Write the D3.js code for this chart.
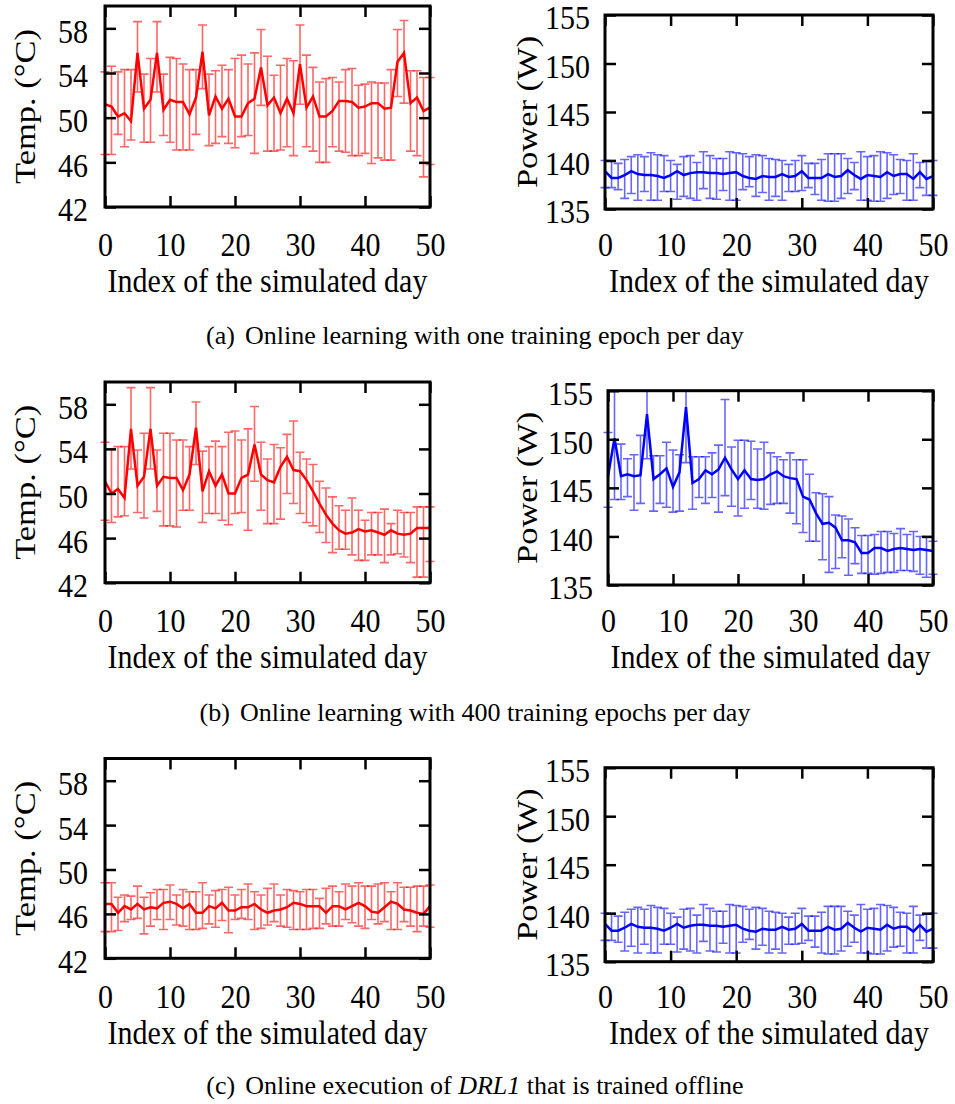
<!DOCTYPE html>
<html>
<head>
<meta charset="utf-8">
<script src="https://cdn.jsdelivr.net/npm/d3@7/dist/d3.min.js"></script>
<style>
  body { margin: 0; background: #fff; }
  svg { display: block; }
</style>
</head>
<body>
<svg id="chart" width="955" height="1104"></svg>
<script>
const days = d3.range(0, 51);   // index of the simulated day
const xTicks = [0, 10, 20, 30, 40, 50];
const tempTicks = [42, 46, 50, 54, 58];
const powerTicks = [135, 140, 145, 150, 155];

// (a) one training epoch per day
const tempAMean = [51.2, 51.0, 50.1, 50.4, 49.7, 55.8, 50.8, 51.6, 55.8, 50.7, 51.6, 51.4, 51.4, 50.3, 51.8, 55.9, 50.2, 51.9, 50.8, 51.7, 50.1, 50.1, 51.3, 51.7, 54.5, 51.1, 51.8, 50.4, 51.7, 50.4, 54.8, 50.9, 51.9, 50.1, 50.1, 50.6, 51.5, 51.5, 51.4, 50.9, 51.0, 51.3, 51.3, 50.8, 50.9, 55.0, 55.8, 51.3, 51.8, 50.6, 50.9];
const tempAHi = [54.1, 54.6, 54.1, 54.3, 54.3, 58.6, 53.9, 55.3, 58.6, 53.9, 55.4, 55.3, 54.8, 54.3, 54.3, 58.3, 53.9, 54.2, 54.7, 54.3, 55.3, 55.6, 54.8, 55.8, 57.9, 55.5, 53.8, 54.7, 55.3, 55.1, 58.3, 55.6, 54.5, 53.2, 53.5, 53.6, 53.2, 54.3, 54.4, 52.9, 53.0, 53.2, 53.1, 53.1, 54.3, 57.9, 58.7, 54.2, 54.2, 53.6, 53.6];
const tempALo = [46.7, 46.7, 48.5, 47.4, 48.0, 52.3, 47.8, 47.8, 52.3, 48.4, 47.8, 47.1, 47.1, 47.1, 48.5, 52.6, 47.5, 47.7, 48.3, 47.7, 47.3, 48.3, 48.4, 46.8, 51.1, 47.0, 47.0, 47.1, 47.4, 46.6, 51.2, 47.4, 47.0, 46.0, 46.0, 47.4, 47.0, 46.9, 46.6, 46.6, 46.8, 45.9, 46.4, 46.2, 46.2, 51.9, 51.3, 47.0, 46.6, 44.7, 45.8];
const powerAMean = [138.9, 138.2, 138.2, 138.5, 138.9, 138.6, 138.5, 138.5, 138.4, 138.2, 138.5, 138.9, 138.5, 138.7, 138.8, 138.8, 138.7, 138.7, 138.6, 138.7, 138.8, 138.4, 138.2, 138.1, 138.4, 138.3, 138.3, 138.6, 138.3, 138.4, 138.9, 138.2, 138.2, 138.2, 138.6, 138.3, 138.4, 139.0, 138.5, 138.1, 138.5, 138.4, 138.3, 138.8, 138.4, 138.6, 138.6, 138.1, 138.8, 138.1, 138.4];
const powerAHi = [140.0, 140.0, 139.7, 140.1, 140.4, 140.6, 140.4, 140.8, 140.6, 140.5, 140.0, 139.6, 140.4, 140.5, 139.8, 140.9, 140.5, 140.2, 140.2, 140.9, 140.8, 140.7, 140.4, 140.6, 140.5, 140.2, 140.1, 140.0, 139.6, 140.0, 140.5, 139.7, 139.7, 140.1, 140.7, 140.7, 140.7, 140.2, 139.8, 140.9, 140.4, 140.5, 140.9, 140.8, 140.6, 140.1, 140.0, 140.7, 139.8, 139.9, 140.0];
const powerALo = [137.2, 137.2, 137.0, 136.1, 136.6, 135.9, 136.8, 135.9, 135.9, 136.8, 136.8, 136.0, 136.3, 136.1, 135.9, 137.1, 136.1, 136.0, 136.9, 135.9, 135.9, 137.0, 137.3, 136.3, 136.7, 135.9, 136.3, 135.9, 136.8, 136.8, 136.9, 137.2, 136.5, 135.9, 135.8, 135.8, 136.1, 136.6, 137.0, 135.9, 135.9, 135.8, 135.8, 136.1, 136.5, 136.6, 135.9, 135.9, 137.2, 136.4, 136.4];

// (b) 400 training epochs per day
const tempBMean = [51.1, 50.0, 50.4, 49.6, 55.8, 50.7, 51.5, 55.8, 50.7, 51.5, 51.4, 51.4, 50.3, 51.7, 55.9, 50.2, 52.0, 50.7, 51.7, 50.0, 50.0, 51.4, 51.7, 54.4, 51.7, 51.2, 51.0, 52.4, 53.3, 52.1, 52.0, 51.2, 50.2, 49.1, 48.1, 47.3, 46.7, 46.4, 46.5, 46.8, 46.6, 46.7, 46.5, 46.3, 46.7, 46.4, 46.3, 46.4, 46.9, 46.9, 46.9];
const tempBHi = [54.6, 54.0, 54.2, 54.2, 59.5, 53.9, 55.4, 59.5, 53.9, 55.4, 55.4, 54.8, 54.8, 54.2, 58.2, 53.8, 54.2, 54.7, 54.2, 55.5, 55.6, 54.8, 55.8, 57.8, 54.6, 53.1, 54.4, 54.1, 55.3, 56.5, 53.7, 53.1, 52.6, 51.1, 50.5, 49.7, 48.9, 48.5, 49.6, 48.5, 47.6, 48.3, 48.3, 48.6, 47.3, 48.5, 48.3, 48.3, 48.8, 48.8, 48.8];
const tempBLo = [47.6, 47.4, 47.9, 48.0, 52.2, 48.3, 47.8, 52.2, 48.4, 47.1, 47.1, 47.0, 48.5, 48.5, 52.6, 47.4, 48.2, 48.2, 47.6, 47.2, 48.2, 48.3, 46.7, 51.1, 48.5, 47.3, 47.3, 47.7, 50.0, 49.1, 48.2, 47.4, 47.1, 46.5, 45.6, 44.7, 45.0, 45.0, 44.5, 44.0, 44.0, 44.5, 44.5, 43.8, 44.5, 44.6, 44.3, 43.8, 42.5, 42.5, 43.9];
const powerBMean = [146.2, 150.1, 146.2, 146.4, 146.2, 146.3, 152.6, 145.9, 146.4, 147.0, 145.1, 146.6, 153.3, 145.5, 145.9, 146.8, 146.4, 146.9, 148.1, 146.9, 145.9, 146.8, 145.9, 145.8, 145.9, 146.4, 146.7, 146.2, 146.0, 145.9, 144.1, 143.8, 142.4, 141.3, 141.4, 140.9, 139.6, 139.6, 139.4, 138.3, 138.3, 138.8, 138.8, 138.5, 138.7, 138.8, 138.7, 138.6, 138.7, 138.6, 138.5];
const powerBHi = [150.7, 157.0, 149.5, 148.0, 148.4, 150.4, 156.5, 148.3, 148.3, 149.7, 148.9, 148.4, 156.0, 148.2, 148.2, 148.2, 148.6, 149.4, 154.1, 149.2, 149.9, 149.9, 149.8, 149.0, 149.7, 148.6, 148.2, 147.9, 148.6, 147.9, 147.9, 146.4, 144.5, 144.4, 144.1, 142.2, 142.1, 141.8, 140.9, 140.1, 140.1, 140.2, 140.5, 140.5, 140.3, 140.8, 140.2, 140.5, 140.0, 140.0, 139.5];
const powerBLo = [143.0, 143.8, 143.8, 144.1, 142.7, 143.4, 148.0, 142.6, 143.4, 143.0, 142.5, 142.6, 147.6, 142.8, 144.0, 143.4, 144.0, 142.5, 144.2, 143.1, 142.1, 142.9, 143.8, 142.9, 142.8, 143.3, 143.4, 143.4, 142.4, 141.3, 140.4, 139.5, 139.5, 137.6, 136.3, 136.7, 137.8, 136.0, 137.2, 136.2, 136.2, 136.1, 136.2, 136.3, 136.3, 136.5, 136.5, 136.4, 136.1, 135.8, 136.1];

// (c) DRL1 trained offline
const tempCMean = [46.9, 46.9, 46.1, 46.7, 46.4, 46.9, 46.4, 46.6, 46.5, 47.0, 47.1, 46.9, 46.5, 46.9, 46.1, 46.1, 46.7, 46.5, 47.0, 46.3, 46.3, 46.6, 46.6, 46.9, 46.4, 46.1, 46.3, 46.4, 46.6, 47.0, 46.9, 46.7, 46.7, 46.7, 46.1, 46.7, 46.7, 46.4, 46.7, 47.0, 46.7, 46.2, 46.1, 46.6, 47.1, 46.9, 46.4, 46.3, 46.1, 46.0, 46.7];
const tempCHi = [48.8, 48.8, 47.5, 47.7, 47.6, 48.5, 47.5, 47.9, 48.2, 48.2, 48.6, 47.7, 48.2, 48.0, 48.0, 48.8, 47.7, 48.1, 48.2, 48.4, 47.7, 48.2, 48.7, 48.0, 47.7, 48.3, 48.7, 47.7, 48.2, 48.1, 48.0, 48.2, 48.2, 47.4, 48.3, 48.5, 48.0, 48.7, 48.5, 48.8, 48.5, 48.5, 48.7, 48.8, 48.0, 48.8, 48.4, 48.4, 48.5, 48.5, 48.6];
const tempCLo = [44.4, 44.4, 44.5, 45.3, 45.5, 45.6, 44.2, 44.9, 45.5, 44.6, 45.5, 45.0, 44.9, 44.6, 44.6, 44.7, 45.1, 44.8, 45.4, 44.3, 45.5, 45.6, 45.5, 44.6, 44.7, 45.0, 45.3, 44.9, 44.8, 44.6, 44.6, 44.6, 44.7, 44.7, 45.1, 44.9, 44.9, 45.5, 45.2, 44.9, 44.7, 45.5, 45.1, 45.3, 44.6, 44.6, 45.3, 44.9, 44.4, 44.9, 44.8];
// power in (c) is the same series as in (a)
const powerCMean = powerAMean, powerCHi = powerAHi, powerCLo = powerALo;

const font = '"Liberation Serif", "Times New Roman", serif';
const svg = d3.select('#chart');

function panel(p) {
    const x = d3.scaleLinear().domain([0, 50]).range([p.left, p.right]);
    const y = d3.scaleLinear().domain(p.domain).range([p.bottom, p.top]);
    const g = svg.append('g');

    g.append('clipPath').attr('id', p.id).append('rect')
        .attr('x', p.left - 6).attr('y', p.top)
        .attr('width', p.right - p.left + 12).attr('height', p.bottom - p.top);
    const plot = g.append('g').attr('clip-path', `url(#${p.id})`);

    // error bars with caps
    plot.append('g')
        .attr('fill', 'none').attr('stroke', p.color)
        .attr('stroke-opacity', 0.6).attr('stroke-width', 1.6)
        .selectAll('path')
        .data(days)
        .join('path')
        .attr('d', d => {
            const cx = x(d), y0 = y(p.lo[d]), y1 = y(p.hi[d]);
            return `M${cx},${y0}V${y1}M${cx - 4.5},${y0}H${cx + 4.5}M${cx - 4.5},${y1}H${cx + 4.5}`;
        });

    // mean line
    plot.append('path')
        .datum(days)
        .attr('fill', 'none').attr('stroke', p.color).attr('stroke-width', 2.5)
        .attr('stroke-linejoin', 'miter')
        .attr('d', d3.line().x(d => x(d)).y(d => y(p.mean[d])));

    const style = sel => {
        sel.select('.domain').remove();
        sel.selectAll('.tick line').attr('stroke', '#000').attr('stroke-width', 2.5);
        sel.attr('font-family', font).attr('font-size', 30);
        sel.selectAll('text').attr('fill', '#000');
    };

    g.append('g')
        .attr('transform', `translate(0,${p.bottom})`)
        .call(d3.axisBottom(x).tickValues(xTicks).tickSize(-11))
        .call(style)
        .selectAll('text')
        .attr('y', 0).attr('dy', null)
        .attr('dominant-baseline', 'central')
        .attr('transform', `translate(0,${p.tickY - p.bottom}) scale(1,1.1)`);
    g.append('g')
        .attr('transform', `translate(0,${p.top})`)
        .call(d3.axisTop(x).tickValues(xTicks).tickSize(-11).tickFormat(''))
        .call(style);
    g.append('g')
        .attr('transform', `translate(${p.left},0)`)
        .call(d3.axisLeft(y).tickValues(p.ticks).tickSize(-11).tickPadding(p.pad))
        .call(style)
        .selectAll('text')
        .attr('dy', null)
        .attr('dominant-baseline', 'central')
        .attr('transform', 'translate(0,3) scale(1,1.1)');
    g.append('g')
        .attr('transform', `translate(${p.right},0)`)
        .call(d3.axisRight(y).tickValues(p.ticks).tickSize(-11).tickFormat(''))
        .call(style);

    g.append('rect')
        .attr('x', p.left).attr('y', p.top)
        .attr('width', p.right - p.left).attr('height', p.bottom - p.top)
        .attr('fill', 'none').attr('stroke', '#000').attr('stroke-width', 3);

    g.append('text')
        .attr('transform', `translate(${p.labelX},${(p.top + p.bottom) / 2}) scale(1,1.15) rotate(-90)`)
        .attr('text-anchor', 'middle').attr('dominant-baseline', 'central')
        .attr('font-family', font).attr('font-size', 30)
        .text(p.label);
    g.append('text')
        .attr('transform', `translate(${(p.left + p.right) / 2},${p.tickY + 36}) scale(1,1.12)`)
        .attr('text-anchor', 'middle').attr('dominant-baseline', 'central')
        .attr('font-family', font).attr('font-size', 30)
        .text('Index of the simulated day');
}

const rows = [
    { key: 'a', tickY: 245, temp: [6, 207], power: [15, 209], powerLeft: 605,
      t: [tempAMean, tempALo, tempAHi], w: [powerAMean, powerALo, powerAHi] },
    { key: 'b', tickY: 621, temp: [382, 582.7], power: [390.7, 585], powerLeft: 608,
      t: [tempBMean, tempBLo, tempBHi], w: [powerBMean, powerBLo, powerBHi] },
    { key: 'c', tickY: 997, temp: [758.5, 958.3], power: [767.7, 961.7], powerLeft: 605,
      t: [tempCMean, tempCLo, tempCHi], w: [powerCMean, powerCLo, powerCHi] }
];

rows.forEach(r => {
    panel({ id: 'clipT' + r.key, left: 105, right: 430, top: r.temp[0], bottom: r.temp[1],
        domain: [42, 60], ticks: tempTicks, pad: 17, labelX: 25, tickY: r.tickY,
        mean: r.t[0], lo: r.t[1], hi: r.t[2], color: '#ff0000', label: 'Temp. (\u00b0C)' });
    panel({ id: 'clipP' + r.key, left: r.powerLeft, right: 933, top: r.power[0], bottom: r.power[1],
        domain: [135, 155], ticks: powerTicks, pad: 15, labelX: 527, tickY: r.tickY,
        mean: r.w[0], lo: r.w[1], hi: r.w[2], color: '#0000ff', label: 'Power (W)' });
});

// sub-figure captions
const captions = [
    { y: 335, parts: [['(a)', false], ['Online learning with one training epoch per day', false]] },
    { y: 712, parts: [['(b)', false], ['Online learning with 400 training epochs per day', false]] },
    { y: 1085, parts: [['(c)', false], ['Online execution of ', false], ['DRL1', true], [' that is trained offline', false]] }
];
captions.forEach(c => {
    const t = svg.append('text')
        .attr('x', 475).attr('y', c.y)
        .attr('text-anchor', 'middle').attr('dominant-baseline', 'central')
        .attr('font-family', font).attr('font-size', 26)
        .attr('xml:space', 'preserve');
    c.parts.forEach((part, i) => {
        t.append('tspan')
            .attr('dx', i === 1 ? 10 : null)
            .attr('font-style', part[1] ? 'italic' : null)
            .text(part[0]);
    });
});
</script>
</body>
</html>
